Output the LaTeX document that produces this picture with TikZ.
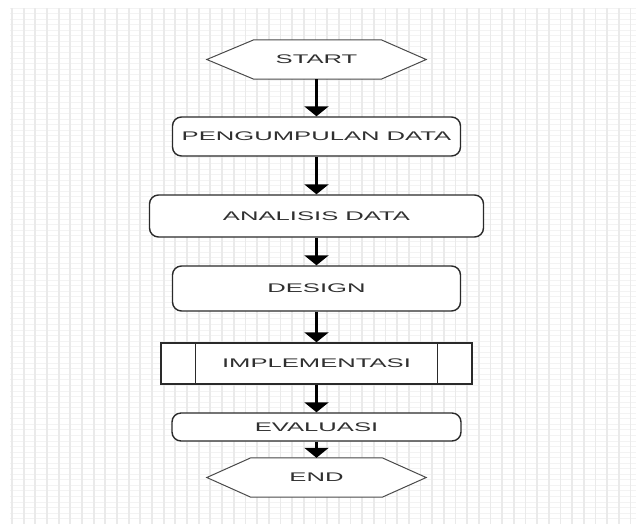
\documentclass[tikz,border=0pt]{standalone}
\usepackage{fontspec}
\setmainfont{Liberation Sans}
\usetikzlibrary{arrows.meta}
\definecolor{gridv}{HTML}{EAEAEA}
\definecolor{gridh}{HTML}{F3F3F3}
\definecolor{edge}{HTML}{2A2A2A}
\definecolor{txt}{HTML}{303030}
\newcommand{\lbl}[1]{\scalebox{2.05}[1]{\fontsize{12.5}{14}\selectfont #1}}
\tikzset{
  base/.style={inner sep=0pt, text=txt, font=\fontsize{12.5}{14}\selectfont},
  procbox/.style={base, draw=edge, line width=1.4pt, rounded corners=9pt, fill=white},
  termbox/.style={base},
  prebox/.style={base, draw=edge, line width=1.4pt, fill=white},
  flow/.style={draw=black, line width=2.4pt, -{Triangle[width=24pt,length=10pt]}},
  hexline/.style={draw=edge!85, line width=1pt, fill=white, line join=miter},
}
\begin{document}
\begin{tikzpicture}[x=1pt, y=-1pt]
\useasboundingbox (0,0) rectangle (636,531);
\fill[white] (0,0) rectangle (636,531);
% background grid
\foreach \k in {0,...,92} {
  \draw[gridh, line width=0.8pt] (10,{8+5.55*\k}) -- (636,{8+5.55*\k});
}
\foreach \k in {0,...,53} {
  \draw[gridv, line width=1.8pt] ({12+11.67*\k},8) -- ({12+11.67*\k},524);
}

% nodes
\node[termbox, minimum width=219pt, minimum height=39pt] (start) at (316.5,59.5) {};
\node[procbox, minimum width=288pt, minimum height=39pt] (kumpul) at (316.5,136.5) {\lbl{PENGUMPULAN DATA}};
\node[procbox, minimum width=334pt, minimum height=42pt] (analisis) at (316.5,216) {\lbl{ANALISIS DATA}};
\node[procbox, minimum width=288pt, minimum height=45pt] (design) at (316.5,288.5) {\lbl{DESIGN}};
\node[prebox, minimum width=311pt, minimum height=41pt] (impl) at (316.5,363.5) {\lbl{IMPLEMENTASI}};
\node[procbox, minimum width=289pt, minimum height=28pt] (eval) at (316.5,427) {\lbl{EVALUASI}};
\node[termbox, minimum width=219pt, minimum height=39pt] (end) at (316.5,477.5) {};

% hexagon terminators
\draw[hexline] (start.west) -- ([xshift=47pt]start.north west) -- ([xshift=-45pt]start.north east)
  -- (start.east) -- ([xshift=-45pt]start.south east) -- ([xshift=47pt]start.south west) -- cycle;
\node[base] at (start.center) {\lbl{START}};
\draw[hexline] (end.west) -- ([xshift=44pt]end.north west) -- ([xshift=-44pt]end.north east)
  -- (end.east) -- ([xshift=-44pt]end.south east) -- ([xshift=44pt]end.south west) -- cycle;
\node[base] at (end.center) {\lbl{END}};

% predefined-process side bars
\draw[edge, line width=1.4pt] ([xshift=35pt]impl.north west) -- ([xshift=35pt]impl.south west);
\draw[edge, line width=1.4pt] ([xshift=-35pt]impl.north east) -- ([xshift=-35pt]impl.south east);

% connectors
\draw[flow] (start.south) -- (kumpul.north);
\draw[flow] (kumpul.south) -- (analisis.north);
\draw[flow] (analisis.south) -- (design.north);
\draw[flow] (design.south) -- (impl.north);
\draw[flow] (impl.south) -- (eval.north);
\draw[flow] (eval.south) -- (end.north);
\end{tikzpicture}
\end{document}
